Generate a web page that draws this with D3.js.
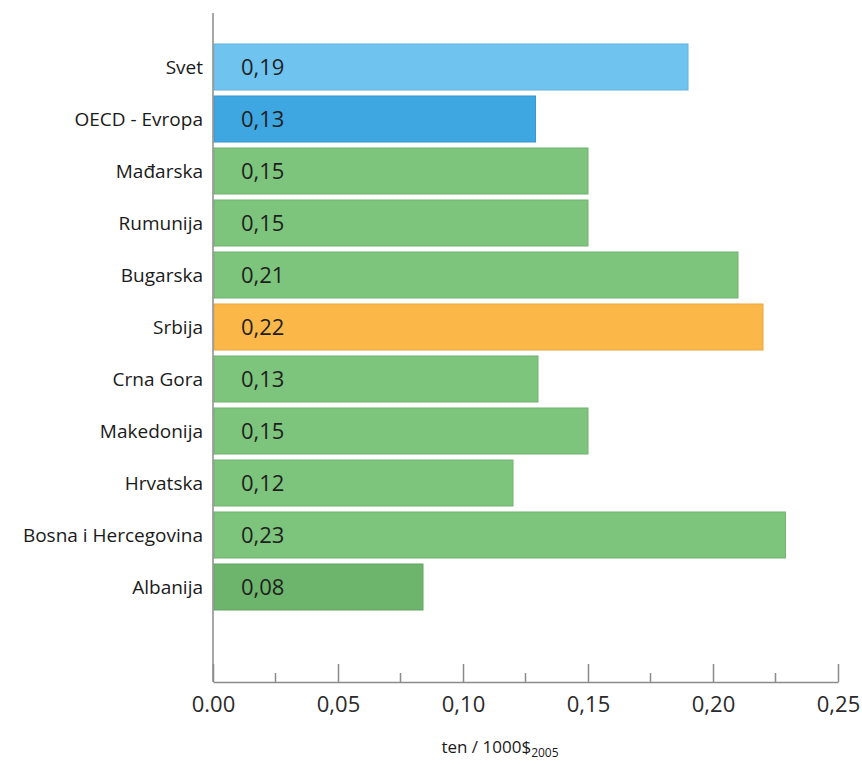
<!DOCTYPE html>
<html>
<head>
<meta charset="utf-8">
<script src="https://cdn.jsdelivr.net/npm/d3@7"></script>
<style>
  html, body { margin: 0; padding: 0; background: #fff; }
  svg { display: block; font-family: "Open Sans", "Noto Sans", sans-serif; }
</style>
</head>
<body>
<svg id="chart" width="862" height="764"></svg>
<script>
// Energy intensity by country (toe per 1000 USD, 2005 prices)
const categories = ["Svet", "OECD - Evropa", "Mađarska", "Rumunija", "Bugarska", "Srbija",
                    "Crna Gora", "Makedonija", "Hrvatska", "Bosna i Hercegovina", "Albanija"];
const values = [0.19, 0.129, 0.15, 0.15, 0.21, 0.22, 0.13, 0.15, 0.12, 0.229, 0.084];
const valueLabels = ["0,19", "0,13", "0,15", "0,15", "0,21", "0,22", "0,13", "0,15", "0,12", "0,23", "0,08"];
const barColors = ["#6fc3ef", "#3ea6e0", "#7dc47c", "#7dc47c", "#7dc47c", "#fbb849",
                   "#7dc47c", "#7dc47c", "#7dc47c", "#7dc47c", "#6db56c"];
const tickValues = [0, 0.05, 0.10, 0.15, 0.20, 0.25];
const tickLabels = ["0.00", "0,05", "0,10", "0,15", "0,20", "0,25"];
const minorTicks = [0.025, 0.075, 0.125, 0.175, 0.225];

const svg = d3.select("#chart");
const x0 = 213, x1 = 838, axisY = 682;

const x = d3.scaleLinear().domain([0, 0.25]).range([x0, x1]);
const y = d3.scaleBand().domain(categories).range([41, 613]).paddingInner(0.115).paddingOuter(0.0575);

// bars
const bars = svg.append("g");
bars.selectAll("rect")
  .data(categories)
  .join("rect")
  .attr("x", x(0) + 1)
  .attr("y", d => y(d))
  .attr("width", (d, i) => x(values[i]) - x(0) - 1)
  .attr("height", y.bandwidth())
  .attr("fill", (d, i) => barColors[i])
  .attr("stroke", (d, i) => d3.color(barColors[i]).darker(0.25))
  .attr("stroke-width", 1);

// value labels inside bars
bars.selectAll("text")
  .data(categories)
  .join("text")
  .attr("x", 241)
  .attr("y", d => y(d) + y.bandwidth() / 2)
  .attr("dy", "0.36em")
  .attr("font-size", 22)
  .attr("fill", "#1f1f1f")
  .text((d, i) => valueLabels[i]);

// category labels
svg.append("g").selectAll("text")
  .data(categories)
  .join("text")
  .attr("x", 203)
  .attr("y", d => y(d) + y.bandwidth() / 2)
  .attr("dy", "0.36em")
  .attr("text-anchor", "end")
  .attr("font-size", 19)
  .attr("fill", "#1a1a1a")
  .text(d => d);

// vertical axis line
svg.append("line")
  .attr("x1", x0).attr("x2", x0)
  .attr("y1", 13).attr("y2", axisY)
  .attr("stroke", "#8a8a8a").attr("stroke-width", 1.5);

// horizontal axis with inward ticks
const xAxis = d3.axisBottom(x)
  .tickValues(tickValues)
  .tickSize(-18)
  .tickSizeOuter(0)
  .tickPadding(14)
  .tickFormat((d, i) => tickLabels[i]);

const gx = svg.append("g").attr("transform", `translate(0,${axisY})`).call(xAxis);
gx.select(".domain").attr("stroke", "#8a8a8a").attr("stroke-width", 1.5);
gx.selectAll(".tick line").attr("stroke", "#8a8a8a").attr("stroke-width", 1.5);
gx.selectAll(".tick text")
  .attr("font-size", 22)
  .attr("fill", "#2a2a2a")
  .attr("font-family", "Open Sans, Noto Sans, sans-serif");

// minor ticks
gx.append("g").selectAll("line")
  .data(minorTicks)
  .join("line")
  .attr("x1", d => x(d)).attr("x2", d => x(d))
  .attr("y1", 0).attr("y2", -9)
  .attr("stroke", "#8a8a8a").attr("stroke-width", 1.5);

// axis title with subscript
const title = svg.append("text")
  .attr("x", 500)
  .attr("y", 753)
  .attr("text-anchor", "middle")
  .attr("font-size", 17)
  .attr("fill", "#1a1a1a");
title.append("tspan").text("ten / 1000$");
title.append("tspan").attr("font-size", 12).attr("dy", 4).text("2005");
</script>
</body>
</html>
